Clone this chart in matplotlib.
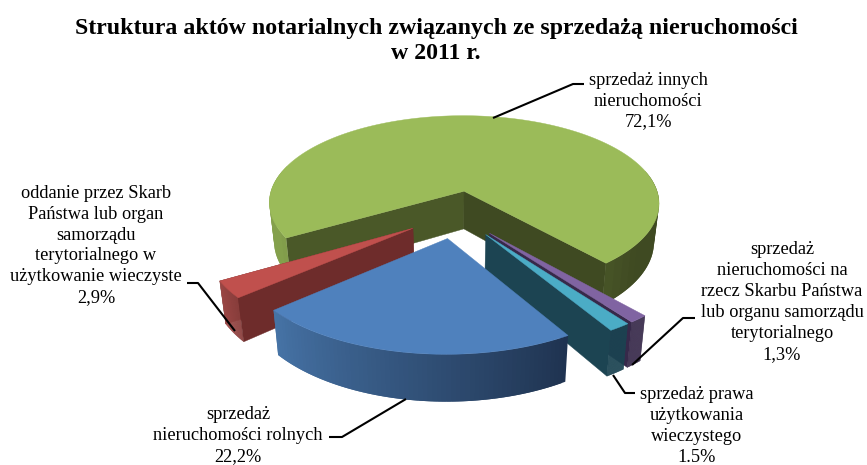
import numpy as np
import matplotlib
matplotlib.use("Agg")
import matplotlib.pyplot as plt
from matplotlib.colors import to_rgb

TITLE = "Struktura aktów notarialnych związanych ze sprzedażą nieruchomości\nw 2011 r."
names = ["sprzedaż innych\nnieruchomości\n72,1%",
         "sprzedaż\nnieruchomości na\nrzecz Skarbu Państwa\nlub organu samorządu\nterytorialnego\n1,3%",
         "sprzedaż prawa\nużytkowania\nwieczystego\n1.5%",
         "sprzedaż\nnieruchomości rolnych\n22,2%",
         "oddanie przez Skarb\nPaństwa lub organ\nsamorządu\nterytorialnego w\nużytkowanie wieczyste\n2,9%"]
shares = [72.1, 1.3, 1.5, 22.2, 2.9]
top_colors = ["#9BBB59", "#8064A2", "#4BACC6", "#4F81BD", "#C0504D"]
wall_light = ["#84A04C", "#37294A", "#1C4452", "#4673A6", "#A04A48"]
wall_dark = ["#3F4A22", "#37294A", "#1C4452", "#1F3350", "#8A3F3D"]
cut_near = ["#3F4A22", "#37294A", "#1C4452", "#1F3350", "#6E2C2B"]
cut_far = ["#4A5828", "#37294A", "#1C4452", "#1F3350", "#6E2C2B"]
label_xy = [(648, 101), (782, 302), (697, 426), (238, 435.5), (96, 245.5)]
leaders = [[(493, 118), (573, 84), (584, 84)],
           [(632, 365), (683, 318), (695, 318)],
           [(613, 375), (625, 393), (635, 393)],
           [(406, 399), (342, 437), (329, 437)],
           [(235, 331), (198, 283), (187, 283)]]

CX, CY, A, B, P, H, EXPLODE, START = 456.0, 214.0, 200.0, 92.0, 0.14, 39.0, 0.26, 41.0
FONT = "Liberation Serif"


def project(x, z, h=0.0):
    s = 1.0 / (1.0 - P * z)
    k = 1.0 - 0.025 * h
    return CX + A * x * s * k, CY + B * z * s + H * h * s


def arc(a0, a1, ox, oz, h=0.0, n=120):
    t = np.radians(np.linspace(a0, a1, n))
    return project(ox + np.sin(t), oz + np.cos(t), h)


fig = plt.figure(figsize=(8.67, 4.65), dpi=100)
ax = fig.add_axes([0, 0, 1, 1])
ax.set_xlim(0, 867)
ax.set_ylim(465, 0)
ax.axis("off")

# angular ranges, going clockwise on screen from the right end of the large slice
spans = np.array(shares) / sum(shares) * 360.0
ranges = {}
cur = START
for i in [1, 2, 3, 4]:
    ranges[i] = (cur - spans[i], cur)
    cur -= spans[i]
ranges[0] = (cur - spans[0], cur)


def draw_slice(i, z):
    a0, a1 = ranges[i]
    mid = np.radians((a0 + a1) / 2)
    ox, oz = EXPLODE * np.sin(mid), EXPLODE * np.cos(mid)

    def cut(ang, col, zz):
        t = np.radians(ang)
        ex, ez = ox + np.sin(t), oz + np.cos(t)
        p = [project(ox, oz), project(ex, ez), project(ex, ez, 1), project(ox, oz, 1)]
        ax.fill(*zip(*p), color=col, lw=0.3, zorder=zz)

    if i == 0:
        cut(a1, cut_far[i], z)
        cut(a0, cut_near[i], z)
    elif i == 4:
        cut(a0, cut_near[i], z)
        cut(a1, cut_near[i], z + 0.1)
    elif i in (1, 2):
        cut(a0, cut_near[i], z + 0.1)

    # outer wall: overlapping strips painted in turn, so no seams show
    edges = np.linspace(a0, a1, 71)
    step = edges[1] - edges[0]
    c1, c2 = np.array(to_rgb(wall_light[i])), np.array(to_rgb(wall_dark[i]))
    for e0 in edges[:-1][::-1]:
        e1 = e0 + step
        m = (e0 + e1) / 2
        m2 = ((m + 180) % 360) - 180
        if abs(m2) > 105:
            continue
        if i == 0:
            f = np.clip((m2 + 65) / 120, 0, 1)
        else:
            f = (m - a0) / (a1 - a0)
        col = c1 + (c2 - c1) * f
        e_low = max(e0 - step, a0)
        xt, yt = arc(e_low, e1, ox, oz, 0, 5)
        xb, yb = arc(e1, e_low, ox, oz, 1, 5)
        ax.fill(np.r_[xt, xb], np.r_[yt, yb], facecolor=col, edgecolor="none", lw=0, zorder=z + 0.05)

    xa, ya = arc(a0, a1, ox, oz, 0, 240)
    x0, y0 = project(ox, oz)
    ax.fill(np.r_[x0, xa], np.r_[y0, ya], color=top_colors[i], lw=0.3, zorder=z + 0.3)


for z, i in enumerate([0, 1, 2, 4, 3]):
    draw_slice(i, z + 1)

for i, (xy, txt) in enumerate(zip(label_xy, names)):
    ax.text(xy[0], xy[1], txt, ha="center", va="center", ma="center", family=FONT,
            fontsize=13.25, linespacing=1.3, color="black", zorder=20)
    ax.plot(*zip(*leaders[i]), color="black", lw=1.5, zorder=20, solid_capstyle="butt")

ax.text(436, 41, TITLE, ha="center", va="center", ma="center", family=FONT,
        fontweight="bold", fontsize=17.2, linespacing=1.22, color="black", zorder=20)

fig.savefig("out.png", dpi=100)
